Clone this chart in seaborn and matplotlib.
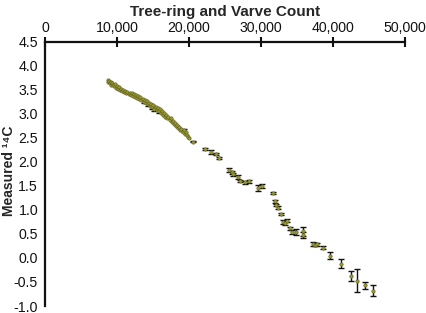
import matplotlib
matplotlib.use("Agg")
import matplotlib.pyplot as plt
import matplotlib.ticker as mticker
import seaborn as sns
import pandas as pd

# Dense tree-ring section
dense_x = [8700, 8800, 8900, 9000, 9100, 9200, 9300, 9450, 9600, 9700, 9850, 10000, 10100,
           10250, 10400, 10550, 10700, 10850, 11000, 11150, 11300, 11450, 11600, 11750, 11900,
           12050, 12200, 12350, 12500, 12650, 12800, 12950, 13100, 13250, 13400, 13550, 13700,
           13850, 14000, 14150, 14300, 14450, 14600, 14750, 14900, 15050, 15200, 15350, 15500,
           15650, 15800, 15950, 16100, 16250, 16400, 16550, 16700, 16850, 17000, 17150, 17300,
           17450, 17600, 17750, 17900, 18050, 18200, 18350, 18500, 18650, 18800, 18950, 19100,
           19250, 19400, 19550, 19700, 19850, 20000]
dense_y = [3.70, 3.66, 3.68, 3.63, 3.66, 3.60, 3.63, 3.59, 3.58, 3.61, 3.54, 3.57, 3.52,
           3.55, 3.49, 3.52, 3.47, 3.50, 3.44, 3.47, 3.43, 3.46, 3.40, 3.43, 3.39,
           3.42, 3.36, 3.40, 3.35, 3.38, 3.32, 3.36, 3.30, 3.34, 3.28, 3.31, 3.25,
           3.28, 3.23, 3.26, 3.19, 3.23, 3.16, 3.20, 3.13, 3.17, 3.10, 3.14, 3.08,
           3.11, 3.05, 3.09, 3.02, 3.05, 2.98, 3.02, 2.94, 2.98, 2.90, 2.93, 2.86,
           2.90, 2.82, 2.85, 2.78, 2.81, 2.74, 2.77, 2.70, 2.73, 2.66, 2.69, 2.62,
           2.65, 2.58, 2.61, 2.55, 2.52, 2.49]
# visible error bars in the dense section are rare (0 = hidden behind marker)
dense_err = [0, 0, 0, 0, 0, 0, 0, 0, 0, 0, 0, 0, 0,
             0, 0, 0, 0, 0, 0, 0, 0, 0, 0, 0, 0,
             0, 0, 0, 0, 0, 0, 0, 0, 0, 0, 0, 0.03,
             0, 0, 0, 0.03, 0, 0, 0, 0.04, 0, 0.04, 0, 0,
             0, 0.03, 0, 0, 0, 0, 0, 0, 0, 0, 0, 0,
             0, 0, 0, 0, 0, 0, 0, 0, 0, 0, 0, 0,
             0.03, 0, 0, 0, 0, 0]

# Sparse varve section
sparse_x = [20600, 22200, 23000, 23700, 24100, 25600, 26000, 26100, 26800, 27100, 27800, 28300,
            29600, 30100, 31700, 32000, 32100, 32300, 32800, 33100, 33300, 33600, 34000, 34300,
            34900, 35800, 35900, 37200, 37500, 37800, 38600, 39600, 41100, 42500, 43300, 44400,
            45500]
sparse_y = [2.42, 2.27, 2.20, 2.17, 2.07, 1.82, 1.78, 1.74, 1.68, 1.60, 1.57, 1.59,
            1.45, 1.49, 1.35, 1.18, 1.10, 1.04, 0.91, 0.75, 0.72, 0.77, 0.62, 0.54,
            0.54, 0.55, 0.48, 0.29, 0.27, 0.28, 0.21, 0.05, -0.12, -0.37, -0.47, -0.57,
            -0.68]
sparse_err = [0.02, 0.02, 0.04, 0.02, 0.02, 0.04, 0.03, 0.03, 0.04, 0.03, 0.03, 0.03,
              0.06, 0.04, 0.02, 0.03, 0.03, 0.03, 0.02, 0.04, 0.04, 0.03, 0.03, 0.04,
              0.07, 0.10, 0.06, 0.04, 0.03, 0.04, 0.03, 0.07, 0.09, 0.10, 0.23, 0.07,
              0.11]

x_ticks = [0, 10000, 20000, 30000, 40000, 50000]
y_ticks = [-1.0, -0.5, 0.0, 0.5, 1.0, 1.5, 2.0, 2.5, 3.0, 3.5, 4.0, 4.5]

df = pd.DataFrame({
    "count": dense_x + sparse_x,
    "c14": dense_y + sparse_y,
    "err": dense_err + sparse_err,
})
df_err = df[df["err"] > 0]

sns.set_style("white")
plt.rcParams["font.family"] = ["Liberation Sans", "DejaVu Sans"]

fig = plt.figure(figsize=(4.26, 3.13), dpi=100)
ax = fig.add_axes([45 / 426, 1 - 306 / 313, 360 / 426, (306 - 41.5) / 313])

ax.errorbar(df_err["count"], df_err["c14"], yerr=df_err["err"], fmt="none", ecolor="#111111",
            elinewidth=1.0, capsize=2.4, capthick=1.0, zorder=2)
sns.scatterplot(data=df, x="count", y="c14", ax=ax, s=6, color="#9a9a34",
                edgecolor="#5a5a1c", linewidth=0.4, zorder=3, legend=False)

ax.set_xlim(0, 50000)
ax.set_ylim(-1.0, 4.5)
ax.set_xticks(x_ticks)
ax.set_yticks(y_ticks)
ax.xaxis.set_major_formatter(mticker.FuncFormatter(lambda v, p: f"{int(v):,}"))
ax.yaxis.set_major_formatter(mticker.FormatStrFormatter("%.1f"))

ax.xaxis.tick_top()
ax.xaxis.set_label_position("top")
ax.set_xlabel("Tree-ring and Varve Count", fontsize=11, fontweight="bold", labelpad=3)
ax.set_ylabel("Measured ¹⁴C", fontsize=10, fontweight="bold")
ax.yaxis.set_label_coords(-0.080, 0.51)

for s in ["bottom", "right"]:
    ax.spines[s].set_visible(False)
for s in ["top", "left"]:
    ax.spines[s].set_linewidth(1.6)
    ax.spines[s].set_color("#111111")

ax.tick_params(axis="x", direction="inout", length=7, width=1.5, labelsize=10.2, pad=1.5,
               colors="#111111")
ax.tick_params(axis="y", direction="out", length=4, width=1.5, labelsize=10.2, pad=1,
               colors="#111111")
ax.grid(False)

fig.savefig("out.png", dpi=100)
